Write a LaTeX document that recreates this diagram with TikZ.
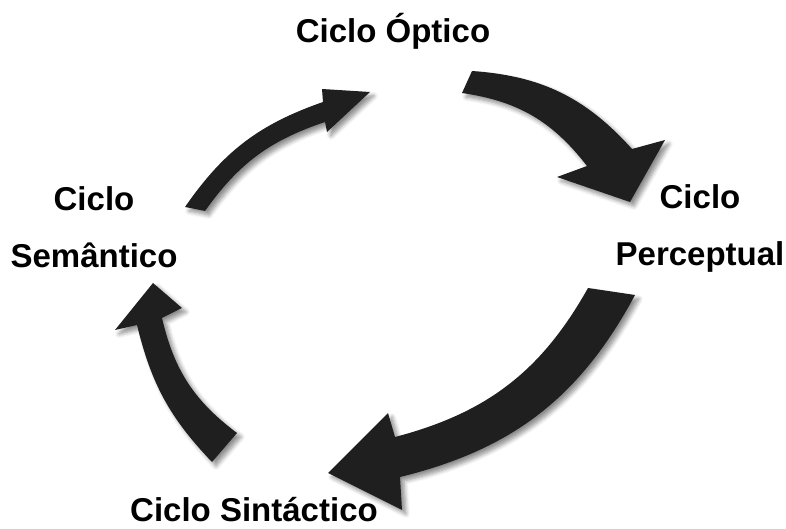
\documentclass[tikz,border=0pt]{standalone}
\usepackage{fontspec}
\setmainfont{Liberation Sans}
\usetikzlibrary{shadows,shadows.blur}

\begin{document}
\begin{tikzpicture}[x=0.5pt,y=0.5pt]
    \tikzstyle{ciclo}=[font=\fontsize{16.5}{28.5}\selectfont\bfseries, inner sep=0pt, align=center]
    \tikzstyle{seta}=[fill=black!88, blur shadow={shadow xshift=2pt, shadow yshift=-2pt, shadow blur steps=6, shadow opacity=45}]
    \useasboundingbox (0,0) rectangle (786,529);
    % labels
    \node[ciclo,anchor=base] (optico) at (393,486) {Ciclo Óptico};
    \node[ciclo,anchor=base] (perceptual) at (700,263) {Ciclo\\Perceptual};
    \node[ciclo,anchor=base] (sintactico) at (254,7) {Ciclo Sintáctico};
    \node[ciclo,anchor=base] (semantico) at (94,261) {Ciclo\\Semântico};
    % semantico -> optico
    \fill[seta] (185,322) to[bend left=18] (323,427) -- (322,440) -- (370,437)
        -- (327,397) -- (325,407) to[bend right=18] (205,318) -- cycle;
    % optico -> perceptual
    \fill[seta] (472,458) to[bend left=22] (632,380) -- (665,389) -- (630,327)
        -- (557,352) -- (587,363) to[bend right=22] (462,436) -- cycle;
    % perceptual -> sintactico
    \fill[seta] (635,234) to[bend left=24] (400,52) -- (402,19) -- (328,56)
        -- (388,116) -- (395,92) to[bend right=23] (588,241) -- cycle;
    % sintactico -> semantico
    \fill[seta] (212,67) to[bend left=15] (137,204) -- (115,199) -- (153,246)
        -- (182,221) -- (162,211) to[bend right=20] (237,96) -- cycle;
\end{tikzpicture}
\end{document}
